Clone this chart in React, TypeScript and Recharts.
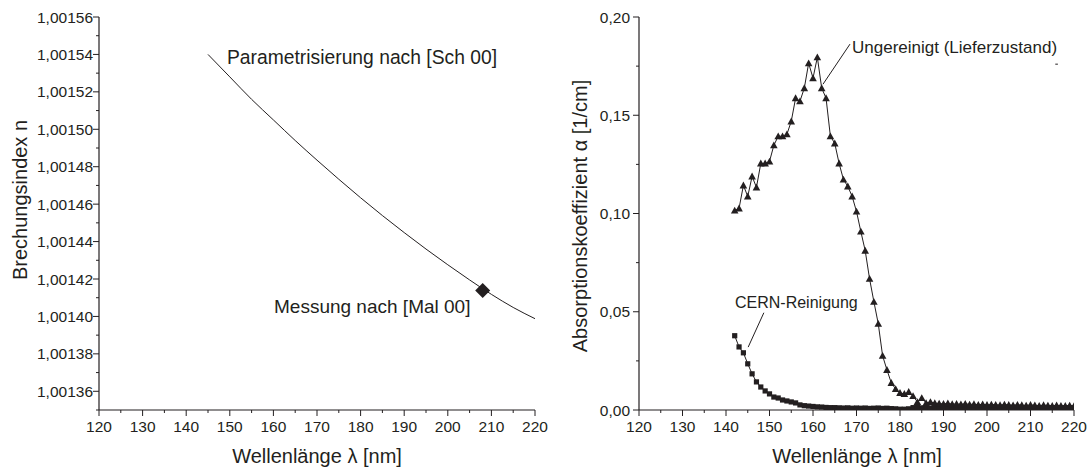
import { ComposedChart, Line, XAxis, YAxis, ReferenceLine } from 'recharts'

const FONT = '"Liberation Sans", Arial, Helvetica, sans-serif'
const INK = '#231f20'

// shared wavelength ticks (every 5 nm, labels every 10 nm)
const xTicks = [120, 125, 130, 135, 140, 145, 150, 155, 160, 165, 170, 175, 180, 185, 190, 195, 200, 205, 210, 215, 220]

// left panel: refractive index
const nTicks = [
  1.00135, 1.00136, 1.00137, 1.00138, 1.00139, 1.0014, 1.00141, 1.00142, 1.00143, 1.00144, 1.00145,
  1.00146, 1.00147, 1.00148, 1.00149, 1.0015, 1.00151, 1.00152, 1.00153, 1.00154, 1.00155, 1.00156,
]
const paramLambda = [145, 150, 155, 160, 165, 170, 175, 180, 185, 190, 195, 200, 205, 210, 215, 220]
const paramN = [
  1.00154, 1.001528, 1.001516, 1.001505, 1.001494, 1.0014835, 1.0014733, 1.0014634, 1.0014539,
  1.0014448, 1.001436, 1.0014276, 1.0014195, 1.0014118, 1.0014048, 1.0013988,
]
const measLambda = [208]
const measN = [1.0014138]

// right panel: absorption coefficient
const absLambda = [
  142, 143, 144, 145, 146, 147, 148, 149, 150, 151, 152, 153, 154, 155, 156, 157, 158, 159, 160, 161,
  162, 163, 164, 165, 166, 167, 168, 169, 170, 171, 172, 173, 174, 175, 176, 177, 178, 179, 180, 181,
  182, 183, 184, 185, 186, 187, 188, 189, 190, 191, 192, 193, 194, 195, 196, 197, 198, 199, 200, 201,
  202, 203, 204, 205, 206, 207, 208, 209, 210, 211, 212, 213, 214, 215, 216, 217, 218, 219, 220,
]
const alphaRaw = [
  0.1015, 0.1026, 0.1143, 0.1087, 0.1189, 0.1133, 0.1255, 0.1255, 0.1265, 0.1347, 0.1393, 0.1393, 0.1403, 0.1469, 0.1587, 0.1571, 0.1638, 0.1765, 0.1689, 0.1795,
  0.1638, 0.1587, 0.1393, 0.1357, 0.1255, 0.1173, 0.1138, 0.1087, 0.101, 0.0908, 0.0811, 0.0668, 0.0551, 0.0439, 0.0276, 0.0204, 0.0138, 0.0107, 0.0087, 0.0082,
  0.0092, 0.0071, 0.0041, 0.0061, 0.0036, 0.0041, 0.0035, 0.0033, 0.0031, 0.0034, 0.003, 0.0031, 0.0029, 0.0032, 0.0028, 0.003, 0.0027, 0.0029, 0.0026, 0.0028,
  0.0027, 0.0025, 0.0028, 0.0026, 0.0024, 0.0027, 0.0025, 0.0023, 0.0026, 0.0024, 0.0022, 0.0025, 0.0023, 0.0021, 0.0024, 0.0022, 0.0021, 0.0023, 0.002,
]
const alphaCern = [
  0.0378, 0.0321, 0.0291, 0.0235, 0.0184, 0.0143, 0.0117, 0.0097, 0.0082, 0.0066, 0.0061, 0.0051, 0.0046, 0.0041, 0.0036, 0.0026, 0.0022, 0.002, 0.0018, 0.0016,
  0.0015, 0.0013, 0.0012, 0.0012, 0.0011, 0.001, 0.0011, 0.0009, 0.001, 0.0009, 0.001, 0.0008, 0.0009, 0.001, 0.0008, 0.0009, 0.0007, 0.0006, 0.0004, 0.0004,
  0.0006, 0.0012, 0.0013, 0.0011, 0.0012, 0.001, 0.0012, 0.0011, 0.0009, 0.0011, 0.001, 0.0012, 0.0009, 0.0011, 0.001, 0.0012, 0.001, 0.0009, 0.0011, 0.001,
  0.0012, 0.0009, 0.001, 0.0011, 0.0009, 0.0012, 0.001, 0.0011, 0.0009, 0.001, 0.0011, 0.001, 0.0009, 0.0011, 0.001, 0.0009, 0.0011, 0.001, 0.0009,
]
const alphaTicks = [0, 0.025, 0.05, 0.075, 0.1, 0.125, 0.15, 0.175, 0.2]

const paramData = paramLambda.map((x, i) => ({ x, y: paramN[i] }))
const measData = measLambda.map((x, i) => ({ x, y: measN[i] }))
const rawData = absLambda.map((x, i) => ({ x, y: alphaRaw[i] }))
const cernData = absLambda.map((x, i) => ({ x, y: alphaCern[i] }))

const isMajorX = (v: number) => Math.round(v) % 10 === 0
const isMajorN = (v: number) => Math.round(v * 1e5) % 2 === 0
const isMajorA = (v: number) => Math.round(v * 1000) % 50 === 0
const fmtN = (v: number) => v.toFixed(5).replace('.', ',')
const fmtA = (v: number) => v.toFixed(2).replace('.', ',')

const tickText = { fontSize: 15.5, fill: INK, fontFamily: FONT }

const bottomTick = (p: any) => {
  const major = isMajorX(p.payload.value)
  return (
    <g>
      <line x1={p.x} x2={p.x} y1={p.y} y2={p.y + (major ? 6 : 3)} stroke={INK} />
      {major && (
        <text x={p.x} y={p.y + 22} textAnchor="middle" {...tickText}>
          {p.payload.value}
        </text>
      )}
    </g>
  )
}

const topTick = (p: any) => {
  const major = isMajorX(p.payload.value)
  return <line x1={p.x} x2={p.x} y1={p.y} y2={p.y + (major ? 6 : 3)} stroke={INK} />
}

const leftTick = (isMajor: (v: number) => boolean, fmt: (v: number) => string, gap: number) => (p: any) => {
  const major = isMajor(p.payload.value)
  return (
    <g>
      <line x1={p.x} x2={p.x - (major ? 6 : 3)} y1={p.y} y2={p.y} stroke={INK} />
      {major && (
        <text x={p.x - gap} y={p.y + 5.5} textAnchor="end" {...tickText}>
          {fmt(p.payload.value)}
        </text>
      )}
    </g>
  )
}

const rightTick = (isMajor: (v: number) => boolean) => (p: any) => {
  const major = isMajor(p.payload.value)
  return <line x1={p.x} x2={p.x - (major ? 6 : 3)} y1={p.y} y2={p.y} stroke={INK} />
}

const diamondDot = (p: any) => {
  const { cx, cy, index } = p
  const s = 7.5
  return <path key={index} d={`M${cx},${cy - s}L${cx + s},${cy}L${cx},${cy + s}L${cx - s},${cy}Z`} fill={INK} />
}

const triangleDot = (p: any) => {
  const { cx, cy, index } = p
  const s = 3.8
  return <path key={index} d={`M${cx},${cy - s}L${cx + s},${cy + s * 0.8}L${cx - s},${cy + s * 0.8}Z`} fill={INK} />
}

const squareDot = (p: any) => {
  const { cx, cy, index } = p
  return <rect key={index} x={cx - 2.6} y={cy - 2.6} width={5.2} height={5.2} fill={INK} />
}

function Txt({ x, y, size, children }: { x: number; y: number; size: number; children: string }) {
  return (
    <div
      style={{
        position: 'absolute', left: x, top: y, transform: 'translateY(-50%)', fontSize: size,
        fontFamily: FONT, color: INK, whiteSpace: 'nowrap', lineHeight: 1,
      }}
    >
      {children}
    </div>
  )
}

function Title({ x, y, size, rotate, children }: { x: number; y: number; size: number; rotate?: boolean; children: string }) {
  return (
    <div
      style={{
        position: 'absolute', left: x, top: y,
        transform: `translate(-50%, -50%)${rotate ? ' rotate(-90deg)' : ''}`,
        fontSize: size, fontFamily: FONT, color: INK, whiteSpace: 'nowrap', lineHeight: 1,
      }}
    >
      {children}
    </div>
  )
}

const axisLine = { stroke: INK, strokeWidth: 1.2 }

export default function App() {
  return (
    <div style={{ position: 'absolute', left: 0, top: 0, width: 1092, height: 470, background: '#fff', overflow: 'hidden' }}>
      <div style={{ position: 'absolute', left: 0, top: 0 }}>
        <ComposedChart width={566} height={470} margin={{ top: 17, right: 31, left: 0, bottom: 0 }}>
          <XAxis xAxisId="b" dataKey="x" type="number" domain={[120, 220]} ticks={xTicks} interval={0} allowDataOverflow
            height={60} tickSize={0} tickMargin={0} tickLine={false} axisLine={axisLine} tick={bottomTick} />
          <XAxis xAxisId="t" orientation="top" dataKey="x" type="number" domain={[120, 220]} ticks={xTicks} interval={0} allowDataOverflow
            height={0} tickSize={0} tickMargin={0} tickLine={false} axisLine={axisLine} tick={topTick} />
          <YAxis yAxisId="l" type="number" domain={[1.00135, 1.00156]} ticks={nTicks} interval={0} allowDataOverflow
            width={99} tickSize={0} tickMargin={0} tickLine={false} axisLine={axisLine} tick={leftTick(isMajorN, fmtN, 6)} />
          <YAxis yAxisId="r" orientation="right" type="number" domain={[1.00135, 1.00156]} ticks={nTicks} interval={0} allowDataOverflow
            width={0} tickSize={0} tickMargin={0} tickLine={false} axisLine={axisLine} tick={rightTick(isMajorN)} />
          <Line xAxisId="b" yAxisId="l" data={paramData} dataKey="y" type="monotone" stroke={INK} strokeWidth={1}
            dot={false} activeDot={false} isAnimationActive={false} />
          <Line xAxisId="b" yAxisId="l" data={measData} dataKey="y" stroke="none"
            dot={diamondDot} activeDot={false} isAnimationActive={false} />
        </ComposedChart>
      </div>
      <div style={{ position: 'absolute', left: 546, top: 0 }}>
        <ComposedChart width={546} height={470} margin={{ top: 17, right: 18, left: 0, bottom: 0 }}>
          <XAxis xAxisId="b" dataKey="x" type="number" domain={[120, 220]} ticks={xTicks} interval={0} allowDataOverflow
            height={60} tickSize={0} tickMargin={0} tickLine={false} axisLine={axisLine} tick={bottomTick} />
          <XAxis xAxisId="t" orientation="top" dataKey="x" type="number" domain={[120, 220]} ticks={xTicks} interval={0} allowDataOverflow
            height={0} tickSize={0} tickMargin={0} tickLine={false} axisLine={axisLine} tick={topTick} />
          <YAxis yAxisId="l" type="number" domain={[0, 0.2]} ticks={alphaTicks} interval={0} allowDataOverflow
            width={93} tickSize={0} tickMargin={0} tickLine={false} axisLine={axisLine} tick={leftTick(isMajorA, fmtA, 9)} />
          <YAxis yAxisId="r" orientation="right" type="number" domain={[0, 0.2]} ticks={alphaTicks} interval={0} allowDataOverflow
            width={0} tickSize={0} tickMargin={0} tickLine={false} axisLine={axisLine} tick={rightTick(isMajorA)} />
          <Line xAxisId="b" yAxisId="l" data={cernData} dataKey="y" stroke={INK} strokeWidth={1}
            dot={squareDot} activeDot={false} isAnimationActive={false} />
          <Line xAxisId="b" yAxisId="l" data={rawData} dataKey="y" stroke={INK} strokeWidth={1}
            dot={triangleDot} activeDot={false} isAnimationActive={false} />
          <ReferenceLine xAxisId="b" yAxisId="l" segment={[{ x: 162.3, y: 0.1658 }, { x: 168.5, y: 0.1862 }]} stroke={INK} strokeWidth={1} ifOverflow="visible" />
          <ReferenceLine xAxisId="b" yAxisId="l" segment={[{ x: 145.1, y: 0.032 }, { x: 148.7, y: 0.0495 }]} stroke={INK} strokeWidth={1} ifOverflow="visible" />
          <ReferenceLine xAxisId="b" yAxisId="l" segment={[{ x: 215.7, y: 0.176 }, { x: 216.3, y: 0.176 }]} stroke={INK} strokeWidth={1} ifOverflow="visible" />
        </ComposedChart>
      </div>

      <Txt x={227} y={58} size={19.3}>Parametrisierung nach [Sch 00]</Txt>
      <Txt x={274} y={306} size={19}>Messung nach [Mal 00]</Txt>
      <Txt x={852} y={47} size={17}>Ungereinigt (Lieferzustand)</Txt>
      <Txt x={735} y={303} size={16}>CERN-Reinigung</Txt>

      <Title x={20} y={200} size={20} rotate>Brechungsindex n</Title>
      <Title x={580} y={216} size={20} rotate>Absorptionskoeffizient α [1/cm]</Title>
      <Title x={317} y={456} size={20}>Wellenlänge λ [nm]</Title>
      <Title x={857} y={456} size={20}>Wellenlänge λ [nm]</Title>
    </div>
  )
}
